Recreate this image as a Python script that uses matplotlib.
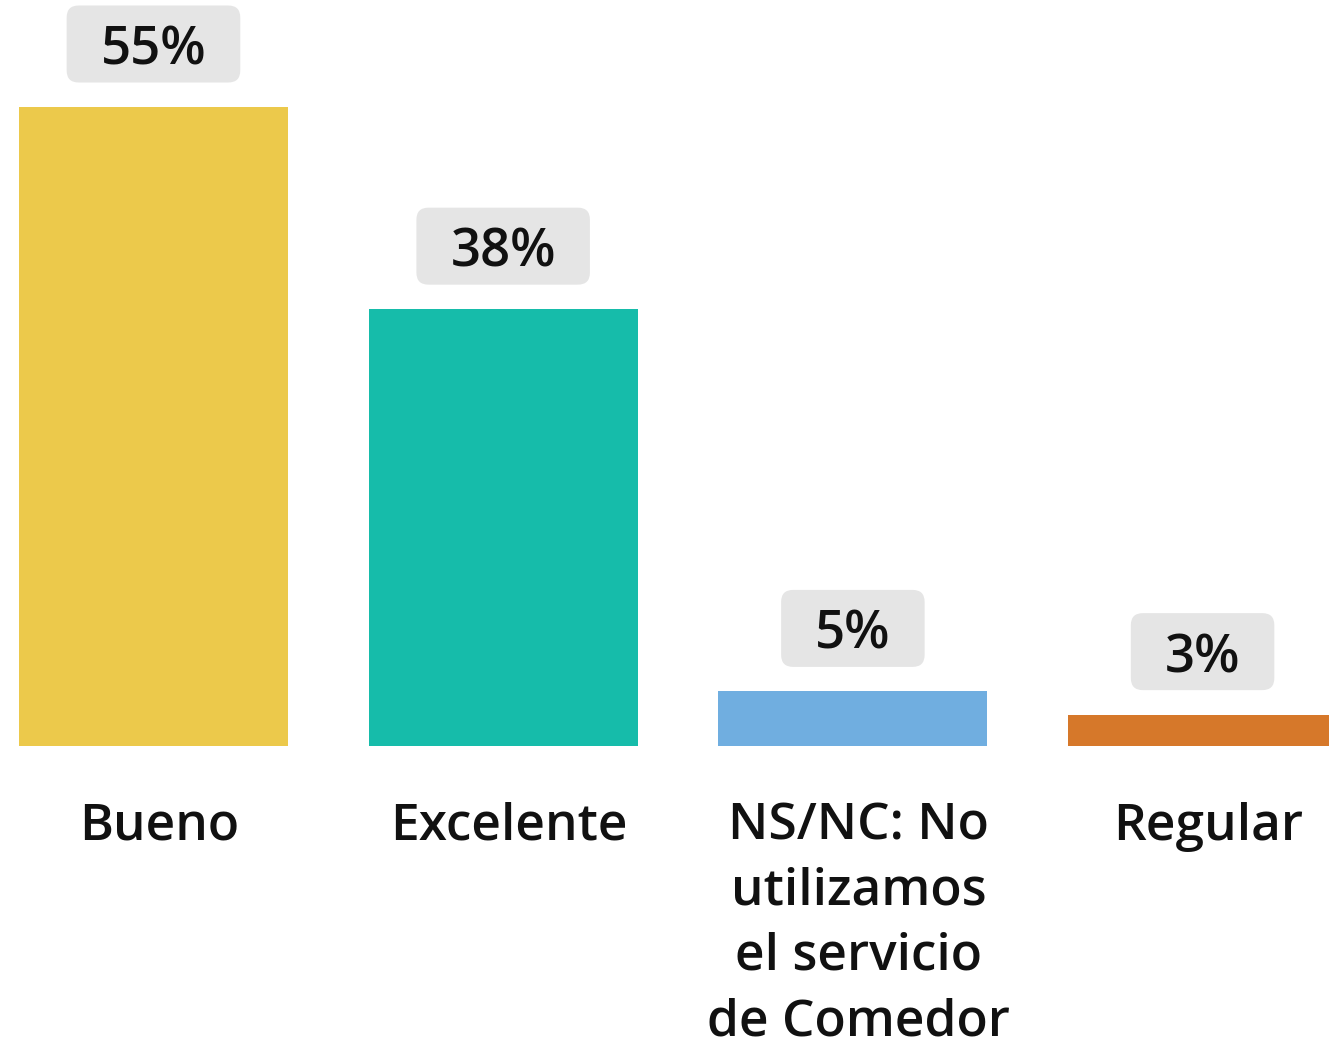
import matplotlib
matplotlib.use("Agg")
import matplotlib.pyplot as plt
from matplotlib.patches import FancyBboxPatch
from matplotlib.transforms import IdentityTransform

# data
categories = ["Bueno", "Excelente", "NS/NC: No\nutilizamos\nel servicio\nde Comedor", "Regular"]
values = [55.0, 37.6, 4.7, 2.7]
labels = ["55%", "38%", "5%", "3%"]
colors = ["#ecc94b", "#16bcaa", "#70aee0", "#d6782a"]

plt.rcParams["font.family"] = ["Open Sans", "DejaVu Sans"]

W, H, DPI = 1329, 1050, 100
fig = plt.figure(figsize=(W / DPI, H / DPI), dpi=DPI)
base_px = 746
ax = fig.add_axes([19 / W, (H - base_px) / H, (W - 19) / W, base_px / H])

bw = 0.769
x = list(range(len(categories)))
ax.bar(x, values, width=bw, color=colors)
ax.set_xlim(-bw / 2, 3.3615)
ax.set_ylim(0, 55 * base_px / 639)
ax.axis("off")

# category names under the bars
for xi, cat in zip(x, categories):
    ax.annotate(cat, xy=(xi, 0), xytext=(4, -40), textcoords="offset points",
                ha="center", va="top", fontsize=37, fontweight="semibold",
                linespacing=1.4, color="#111111", annotation_clip=False)

# value labels in rounded grey boxes
texts = []
for xi, v, lab in zip(x, values, labels):
    t = ax.annotate(lab, xy=(xi, v), xytext=(0, 45), textcoords="offset points",
                    ha="center", va="center_baseline", fontsize=38, fontweight="semibold",
                    color="#111111", zorder=6)
    texts.append(t)

fig.canvas.draw()
r = fig.canvas.get_renderer()
for xi, v, t in zip(x, values, texts):
    bb = t.get_window_extent(r)
    cx, cy = ax.transData.transform((xi, v))
    cy = cy + 63
    bw_px = bb.width + 68
    bh_px = 77
    patch = FancyBboxPatch((cx - bw_px / 2 + 12, cy - bh_px / 2 + 12), bw_px - 24, bh_px - 24,
                           boxstyle="round,pad=12", transform=IdentityTransform(),
                           facecolor="#e5e5e5", edgecolor="none", zorder=4, clip_on=False)
    ax.add_artist(patch)

fig.savefig("out.png", dpi=DPI)
